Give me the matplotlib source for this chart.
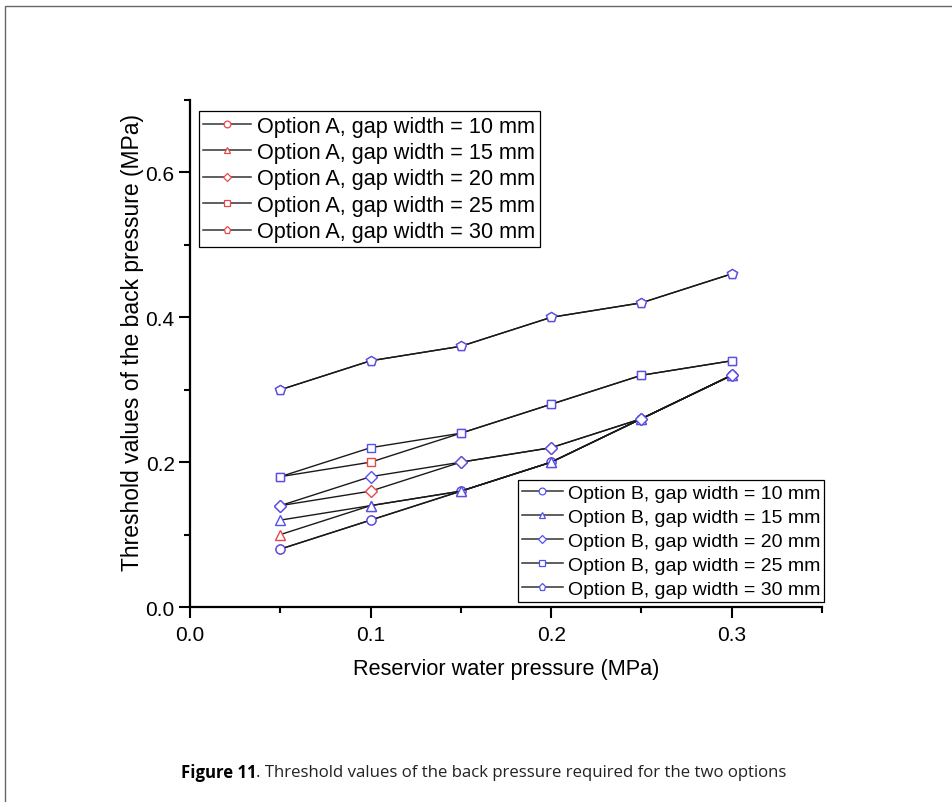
import matplotlib
matplotlib.use("Agg")
import matplotlib.pyplot as plt
from matplotlib.patches import Rectangle
from matplotlib.lines import Line2D

plt.rcParams['font.family'] = ['Liberation Sans', 'DejaVu Sans']

# reservoir water pressure (MPa)
x = [0.05, 0.10, 0.15, 0.20, 0.25, 0.30]

# Option A, threshold back pressure (MPa)
a10 = [0.08, 0.12, 0.16, 0.20, 0.26, 0.32]
a15 = [0.10, 0.14, 0.16, 0.20, 0.26, 0.32]
a20 = [0.14, 0.16, 0.20, 0.22, 0.26, 0.32]
a25 = [0.18, 0.20, 0.24, 0.28, 0.32, 0.34]
a30 = [0.30, 0.34, 0.36, 0.40, 0.42, 0.46]

# Option B
b10 = [0.08, 0.12, 0.16, 0.20, 0.26, 0.32]
b15 = [0.12, 0.14, 0.16, 0.20, 0.26, 0.32]
b20 = [0.14, 0.18, 0.20, 0.22, 0.26, 0.32]
b25 = [0.18, 0.22, 0.24, 0.28, 0.32, 0.34]
b30 = [0.30, 0.34, 0.36, 0.40, 0.42, 0.46]

gaps = [10, 15, 20, 25, 30]
markers = ['o', '^', 'D', 's', 'p']
msizes = [6.5, 6.5, 6, 6, 7]
red = '#e84848'
blue = '#5252f0'

fig = plt.figure(figsize=(9.52, 8.03), dpi=100)
ax = fig.add_axes([0.1996, 0.2428, 0.6639, 0.6314])

hA, hB = [], []
for ys, g, m, ms in zip([a10, a15, a20, a25, a30], gaps, markers, msizes):
    ax.plot(x, ys, color='#1a1a1a', lw=1.0, marker=m, ms=ms, mfc='white',
            mec=red, mew=1.0)
    hA.append(Line2D([], [], color='#333333', lw=1.1, marker=m, ms=ms * 0.75,
                     mfc='white', mec=red, mew=0.9,
                     label=f'Option A, gap width = {g} mm'))
for ys, g, m, ms in zip([b10, b15, b20, b25, b30], gaps, markers, msizes):
    ax.plot(x, ys, color='#1a1a1a', lw=1.0, marker=m, ms=ms, mfc='white',
            mec=blue, mew=1.0)
    hB.append(Line2D([], [], color='#333333', lw=1.1, marker=m, ms=ms * 0.75,
                     mfc='white', mec=blue, mew=0.9,
                     label=f'Option B, gap width = {g} mm'))

ax.set_xlim(0, 0.35)
ax.set_ylim(0, 0.7)
ax.set_xticks([0.0, 0.1, 0.2, 0.3])
ax.set_xticks([0.05, 0.15, 0.25, 0.35], minor=True)
ax.set_yticks([0.0, 0.2, 0.4, 0.6])
ax.set_yticks([0.1, 0.3, 0.5, 0.7], minor=True)
ax.xaxis.set_major_formatter(matplotlib.ticker.FormatStrFormatter('%.1f'))
ax.yaxis.set_major_formatter(matplotlib.ticker.FormatStrFormatter('%.1f'))
for s in ['top', 'right']:
    ax.spines[s].set_visible(False)
for s in ['left', 'bottom']:
    ax.spines[s].set_linewidth(1.6)
ax.tick_params(which='major', direction='out', length=8, width=1.5,
               labelsize=15, pad=3)
ax.tick_params(axis='x', which='major', pad=5)
ax.tick_params(which='minor', direction='out', length=4.5, width=1.5)
ax.set_xlabel('Reservior water pressure (MPa)', fontsize=15.6, labelpad=10)
ax.set_ylabel('Threshold values of the back pressure (MPa)', fontsize=16.5,
              labelpad=1)
ax.yaxis.label.set_y(0.523)

legA = ax.legend(handles=hA, loc='upper left', bbox_to_anchor=(0.014, 0.978),
                 fontsize=15.6, frameon=True, fancybox=False, edgecolor='black',
                 framealpha=1, handlelength=2.2, handletextpad=0.3,
                 labelspacing=0.25, borderpad=0.2, borderaxespad=0)
legA.get_frame().set_linewidth(0.9)
ax.add_artist(legA)
legB = ax.legend(handles=hB, loc='lower right', bbox_to_anchor=(1.003, 0.01),
                 fontsize=14, frameon=True, fancybox=False, edgecolor='black',
                 framealpha=1, handlelength=2.1, handletextpad=0.25,
                 labelspacing=0.33, borderpad=0.2, borderaxespad=0)
legB.get_frame().set_linewidth(0.9)

# outer frame of the figure panel
fig.add_artist(Rectangle((5 / 952, -0.05), 1.2, 1 - 7 / 803 + 0.05,
                         transform=fig.transFigure, fill=False,
                         edgecolor='#666666', lw=1.0))

cap = fig.text(181 / 952, 1 - 773 / 803, 'Figure 11', fontsize=12.1,
               fontweight='bold', family='Open Sans', va='center', ha='left')
fig.canvas.draw()
r = cap.get_window_extent(fig.canvas.get_renderer())
fig.text(r.x1 / 952, 1 - 773 / 803,
         '. Threshold values of the back pressure required for the two options',
         fontsize=12.1, family='Open Sans', va='center', ha='left',
         color='#222222')

fig.savefig('out.png', dpi=100)
